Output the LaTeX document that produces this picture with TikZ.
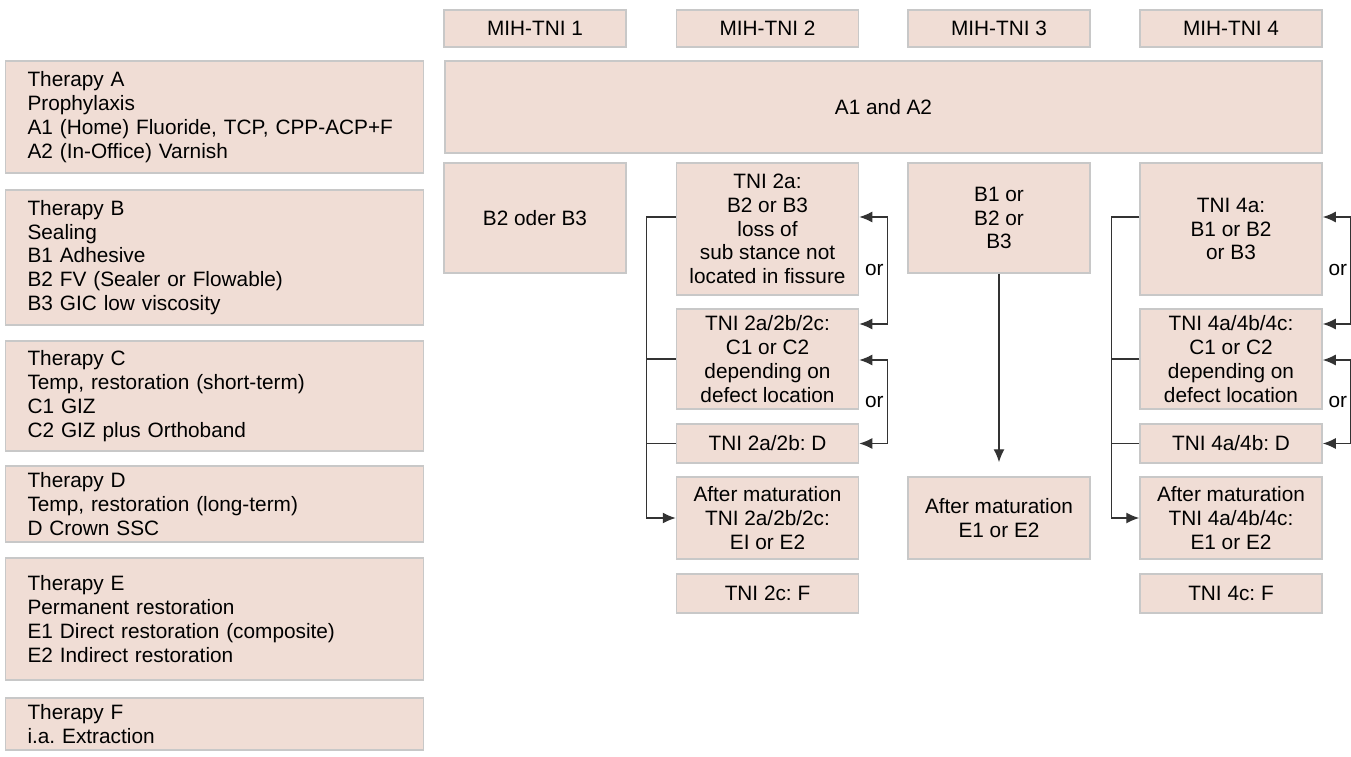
\documentclass[tikz,border=0pt]{standalone}
\usepackage{fontspec}
\setmainfont{Liberation Sans}
\usetikzlibrary{arrows.meta}
\definecolor{boxfill}{RGB}{240,221,213}
\definecolor{boxline}{RGB}{200,200,200}
\frenchspacing
\begin{document}
\begin{tikzpicture}[x=1pt, y=-1pt, every node/.style={font=\fontsize{20.8}{23.8}\selectfont},
    box/.style={draw=boxline, fill=boxfill, line width=1.5pt, align=center, inner sep=0pt, minimum width=182pt},
    therapy/.style={box, align=left, text width=374pt, inner xsep=22pt, minimum width=418pt},
    link/.style={line width=1.4pt, draw=black!80, -{Latex[length=13pt,width=11pt]}},
    both/.style={link, {Latex[length=13pt,width=11pt]}-{Latex[length=13pt,width=11pt]}},
    orlabel/.style={left, inner sep=3pt}]
  \useasboundingbox (0,0) rectangle (1351,757);
  \node[therapy, minimum height=112pt] (ta) at (214.5,117) {Therapy A\\Prophylaxis\\A1 (Home) Fluoride, TCP, CPP-ACP+F\\A2 (In-Office) Varnish};
  \node[therapy, minimum height=135pt] (tb) at (214.5,257.5) {Therapy B\\Sealing\\B1 Adhesive\\B2 FV (Sealer or Flowable)\\B3 GIC low viscosity};
  \node[therapy, minimum height=110pt] (tc) at (214.5,396) {Therapy C\\Temp, restoration (short-term)\\C1 GIZ\\C2 GIZ plus Orthoband};
  \node[therapy, minimum height=76pt] (td) at (214.5,504) {Therapy D\\Temp, restoration (long-term)\\D Crown SSC};
  \node[therapy, minimum height=122pt] (te) at (214.5,619) {Therapy E\\Permanent restoration\\E1 Direct restoration (composite)\\E2 Indirect restoration};
  \node[therapy, minimum height=52pt] (tf) at (214.5,724) {Therapy F\\i.a. Extraction};
  \node[box, minimum height=37pt] (h1) at (535,28.5) {MIH-TNI 1};
  \node[box, minimum height=37pt] (h2) at (767.5,28.5) {MIH-TNI 2};
  \node[box, minimum height=37pt] (h3) at (999,28.5) {MIH-TNI 3};
  \node[box, minimum height=37pt] (h4) at (1231,28.5) {MIH-TNI 4};
  \node[box, minimum width=877pt, minimum height=92pt] (aa) at (883.5,107) {A1 and A2};
  \node[box, minimum height=110pt] (b1) at (535,218) {B2 oder B3};
  \node[box, minimum height=132pt] (t2a) at (767.5,229) {TNI 2a:\\B2 or B3\\loss of\\sub stance not\\located in fissure};
  \node[box, minimum height=100pt] (t2c) at (767.5,359) {TNI 2a/2b/2c:\\C1 or C2\\depending on\\defect location};
  \node[box, minimum height=39pt] (t2d) at (767.5,443.5) {TNI 2a/2b: D};
  \node[box, minimum height=82pt] (t2e) at (767.5,518) {After maturation\\TNI 2a/2b/2c:\\EI or E2};
  \node[box, minimum height=39pt] (t2f) at (767.5,593.5) {TNI 2c: F};
  \node[box, minimum height=110pt] (t3b) at (999,218) {B1 or\\B2 or\\B3};
  \node[box, minimum height=82pt] (t3e) at (999,518) {After maturation\\E1 or E2};
  \node[box, minimum height=132pt] (t4a) at (1231,229) {TNI 4a:\\B1 or B2\\or B3};
  \node[box, minimum height=100pt] (t4c) at (1231,359) {TNI 4a/4b/4c:\\C1 or C2\\depending on\\defect location};
  \node[box, minimum height=39pt] (t4d) at (1231,443.5) {TNI 4a/4b: D};
  \node[box, minimum height=82pt] (t4e) at (1231,518) {After maturation\\TNI 4a/4b/4c:\\E1 or E2};
  \node[box, minimum height=39pt] (t4f) at (1231,593.5) {TNI 4c: F};
  \draw[link] ([yshift=12pt]t2a.west) -- ++(-29,0) |- (t2e.west);
  \draw[link, -] (t2c.west) -- ++(-29,0);
  \draw[link, -] (t2d.west) -- ++(-29,0);
  \draw[both] ([yshift=12pt]t2a.east) -- ++(28,0) |- ([yshift=35pt]t2c.east) node[orlabel, pos=0.25] {or};
  \draw[both] ([yshift=-1pt]t2c.east) -- ++(28,0) |- (t2d.east) node[orlabel, pos=0.25] {or};
  \draw[link, shorten >=14pt] (t3b) -- (t3e);
  \draw[link] ([yshift=12pt]t4a.west) -- ++(-28,0) |- (t4e.west);
  \draw[link, -] (t4c.west) -- ++(-28,0);
  \draw[link, -] (t4d.west) -- ++(-28,0);
  \draw[both] ([yshift=12pt]t4a.east) -- ++(28,0) |- ([yshift=35pt]t4c.east) node[orlabel, pos=0.25] {or};
  \draw[both] ([yshift=-1pt]t4c.east) -- ++(28,0) |- (t4d.east) node[orlabel, pos=0.25] {or};
\end{tikzpicture}
\end{document}
